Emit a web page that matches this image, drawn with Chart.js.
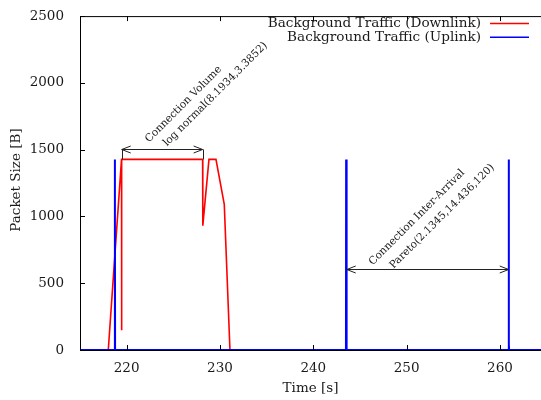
<!DOCTYPE html>
<html>
<head>
<meta charset="utf-8">
<script src="https://cdn.jsdelivr.net/npm/chart.js@4"></script>
<style>
  html, body { margin: 0; padding: 0; background: #fff; }
  #wrap { width: 541px; height: 400px; }
</style>
</head>
<body>
<div id="wrap"><canvas id="trafficChart" width="541" height="400"></canvas></div>
<script>
// values
const downTime = [215, 218.03, 219.45, 219.46, 219.47, 228.14, 228.16, 228.82, 229.57, 230.46, 231.07, 264.4];
const downSize = [0, 0, 1427, 147, 1427, 1427, 931, 1427, 1427, 1090, 0, 0];

const upTime = [215, 218.72, 218.73, 218.74, 218.75, 218.76, 243.50, 243.52, 243.54, 243.56, 243.58, 243.60, 260.92, 260.94, 260.95, 260.97, 260.98, 264.4];
const upSize = [0, 0, 1427, 0, 1030, 0, 0, 1427, 0, 612, 0, 0, 0, 1427, 0, 44, 0, 0];

const xTicks = [220, 230, 240, 250, 260];
const yTicks = [0, 500, 1000, 1500, 2000, 2500];

const seriesNames = ["Background Traffic (Downlink)", "Background Traffic (Uplink)"];

// annotations: [from, to, at]
const volumeArrow = [219.47, 228.14, 1502];
const volumeLines = ["Connection Volume", "log normal(8.1934,3.3852)"];
const volumeTextAt = [[226.1, 1840], [229.5, 1915]];

const arrivalArrow = [243.58, 260.94, 605];
const arrivalLines = ["Connection Inter-Arrival", "Pareto(2.1345,14.436,120)"];
const arrivalTextAt = [[251.1, 993], [253.8, 1000]];

const serif = "'DejaVu Serif', 'Liberation Serif', serif";
const ink = "#1a1a1a";

function toPoints(xs, ys) {
    return xs.map((x, i) => ({ x: x, y: ys[i] }));
}

function arrowHead(ctx, x, y, dir) {
    // open V head, dir = -1 points left, 1 points right
    ctx.beginPath();
    ctx.moveTo(x - dir * 9, y - 3.5);
    ctx.lineTo(x, y);
    ctx.lineTo(x - dir * 9, y + 3.5);
    ctx.stroke();
}

const decor = {
    id: "decor",
    afterDatasetsDraw(chart) {
        const ctx = chart.ctx;
        const a = chart.chartArea;
        const xs = chart.scales.x;
        const ys = chart.scales.y;
        ctx.save();

        // frame (right side is cut off in the original)
        ctx.strokeStyle = "#000";
        ctx.lineWidth = 1;
        ctx.beginPath();
        ctx.moveTo(a.right, a.top + 0.5);
        ctx.lineTo(a.left + 0.5, a.top + 0.5);
        ctx.lineTo(a.left + 0.5, a.bottom + 0.5);
        ctx.lineTo(a.right, a.bottom + 0.5);
        ctx.stroke();

        // inward ticks, mirrored on top
        ctx.beginPath();
        xTicks.forEach(v => {
            const px = Math.round(xs.getPixelForValue(v)) + 0.5;
            ctx.moveTo(px, a.bottom);
            ctx.lineTo(px, a.bottom - 5);
            ctx.moveTo(px, a.top);
            ctx.lineTo(px, a.top + 5);
        });
        yTicks.forEach(v => {
            const py = Math.round(ys.getPixelForValue(v)) + 0.5;
            ctx.moveTo(a.left, py);
            ctx.lineTo(a.left + 5, py);
        });
        ctx.stroke();

        // arrows
        ctx.strokeStyle = "#222";
        [volumeArrow, arrivalArrow].forEach(arr => {
            const x1 = xs.getPixelForValue(arr[0]);
            const x2 = xs.getPixelForValue(arr[1]);
            const py = Math.round(ys.getPixelForValue(arr[2])) + 0.5;
            ctx.beginPath();
            ctx.moveTo(x1, py);
            ctx.lineTo(x2, py);
            ctx.stroke();
            arrowHead(ctx, x1, py, -1);
            arrowHead(ctx, x2, py, 1);
        });
        // small bars joining the volume arrow to the red plateau
        ctx.beginPath();
        [volumeArrow[0], volumeArrow[1]].forEach(t => {
            const px = Math.round(xs.getPixelForValue(t)) + 0.5;
            ctx.moveTo(px, ys.getPixelForValue(volumeArrow[2]));
            ctx.lineTo(px, ys.getPixelForValue(1427));
        });
        ctx.stroke();

        // rotated labels
        ctx.fillStyle = ink;
        ctx.font = "10.5px " + serif;
        ctx.textAlign = "center";
        ctx.textBaseline = "middle";
        const drawRot = (lines, spots) => {
            lines.forEach((txt, i) => {
                ctx.save();
                ctx.translate(xs.getPixelForValue(spots[i][0]), ys.getPixelForValue(spots[i][1]));
                ctx.rotate(-Math.PI / 4);
                ctx.fillText(txt, 0, 0);
                ctx.restore();
            });
        };
        drawRot(volumeLines, volumeTextAt);
        drawRot(arrivalLines, arrivalTextAt);

        // gnuplot style key, top right
        const colors = ["#ff0000", "#0000ff"];
        ctx.font = "13.6px " + serif;
        ctx.textAlign = "right";
        seriesNames.forEach((name, i) => {
            const ty = 23.5 + i * 13.8;
            ctx.fillStyle = ink;
            ctx.fillText(name, 481, ty);
            ctx.strokeStyle = colors[i];
            ctx.lineWidth = 1.5;
            ctx.beginPath();
            ctx.moveTo(490, ty);
            ctx.lineTo(529, ty);
            ctx.stroke();
        });

        // axis titles
        ctx.fillStyle = ink;
        ctx.font = "13.5px " + serif;
        ctx.textAlign = "center";
        ctx.fillText("Time [s]", (a.left + a.right) / 2, 388);
        ctx.save();
        ctx.translate(16, 180);
        ctx.rotate(-Math.PI / 2);
        ctx.fillText("Packet Size [B]", 0, 0);
        ctx.restore();

        ctx.restore();
    }
};

new Chart(document.getElementById("trafficChart"), {
    type: "line",
    data: {
        datasets: [{
            label: seriesNames[0],
            data: toPoints(downTime, downSize),
            borderColor: "#ff0000",
            borderWidth: 1.6,
            pointRadius: 0,
            tension: 0,
            order: 1
        }, {
            label: seriesNames[1],
            data: toPoints(upTime, upSize),
            borderColor: "#0000ff",
            borderWidth: 2,
            pointRadius: 0,
            tension: 0,
            order: 0
        }]
    },
    options: {
        responsive: false,
        animation: false,
        events: [],
        layout: { padding: { top: 10, right: 0, left: 0, bottom: 0 } },
        scales: {
            x: {
                type: "linear",
                min: 215,
                max: 264.4,
                grid: { display: false },
                border: { display: false },
                afterBuildTicks: (scale) => { scale.ticks = xTicks.map(v => ({ value: v })); },
                afterFit: (scale) => { scale.height = 50; },
                ticks: {
                    padding: 2,
                    maxRotation: 0,
                    color: ink,
                    font: { family: serif, size: 13.5 },
                    callback: (v) => String(v)
                }
            },
            y: {
                min: 0,
                max: 2500,
                grid: { display: false },
                border: { display: false },
                afterBuildTicks: (scale) => { scale.ticks = yTicks.map(v => ({ value: v })); },
                afterFit: (scale) => { scale.width = 80; },
                ticks: {
                    padding: 8,
                    color: ink,
                    font: { family: serif, size: 13.5 },
                    callback: (v) => String(v)
                }
            }
        },
        plugins: {
            legend: { display: false },
            tooltip: { enabled: false }
        }
    },
    plugins: [decor]
});
</script>
</body>
</html>
